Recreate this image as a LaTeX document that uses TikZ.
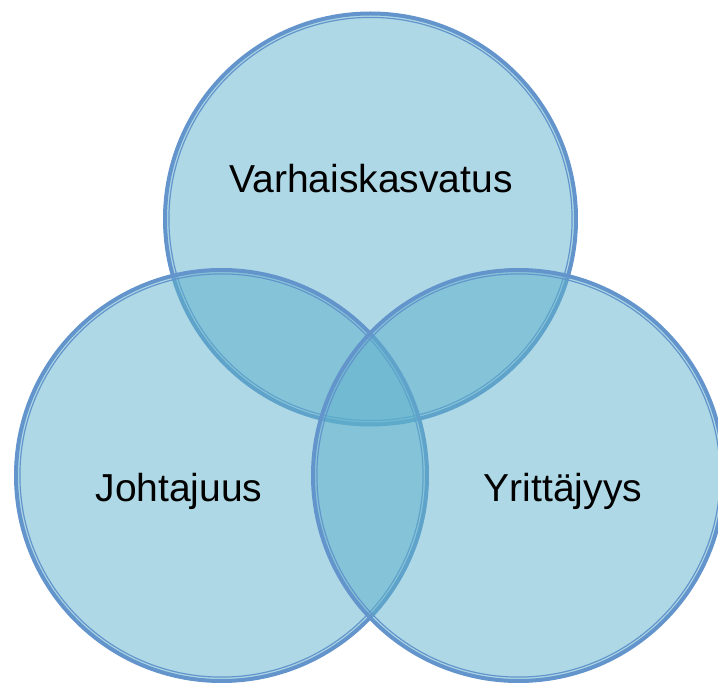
\documentclass[tikz,border=0pt]{standalone}
\usepackage{fontspec}
\setmainfont{Liberation Sans}
\begin{document}
\begin{tikzpicture}[x=1pt,y=-1pt,
  venn/.style={fill={rgb,255:red,93;green,177;blue,203},fill opacity=0.5},
  outerring/.style={draw={rgb,255:red,99;green,149;blue,204},line width=4pt},
  innerring/.style={draw={rgb,255:red,99;green,149;blue,204},line width=1.2pt},
  lbl/.style={font=\fontsize{39}{41}\selectfont,text=black,inner sep=0pt}]
\useasboundingbox (0,0) rectangle (718,684);
\coordinate (ct) at (370.5,219);
\coordinate (cl) at (221.5,475.5);
\coordinate (cr) at (518.5,475.5);
\foreach \c in {ct,cl,cr}{
  \fill[venn] (\c) circle[radius=207];
  \draw[outerring] (\c) circle[radius=205.5];
  \draw[innerring] (\c) circle[radius=201.6];
}
\node[lbl] (vk) at (371,179) {Varhaiskasvatus};
\node[lbl] (jo) at (179,491) {Johtajuus};
\node[lbl] (yr) at (563,491) {Yrittäjyys};
\end{tikzpicture}
\end{document}
